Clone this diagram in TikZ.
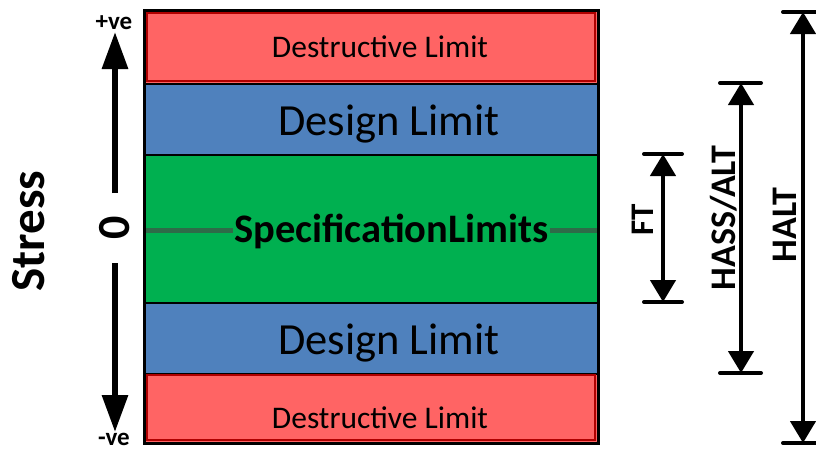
\documentclass[tikz,border=0pt]{standalone}
\usepackage{fontspec}
\setmainfont{Carlito}
\usetikzlibrary{arrows.meta}
\definecolor{destred}{HTML}{FF6464}
\definecolor{destedge}{HTML}{B00000}
\definecolor{designblue}{HTML}{4F81BD}
\definecolor{specgreen}{HTML}{00B050}
\definecolor{zeroline}{HTML}{2E6B48}
\tikzset{
  band/.style={draw=black, line width=1.5pt, minimum width=454pt, inner sep=0pt, anchor=north},
  destband/.style={band, fill=destred, font=\fontsize{31.5}{36}\selectfont},
  designband/.style={band, fill=designblue, font=\fontsize{44.5}{50}\selectfont},
  specband/.style={band, fill=specgreen},
  axislabel/.style={font=\fontsize{25}{28}\selectfont\bfseries, inner sep=0pt},
  vlabel/.style={rotate=90, font=\fontsize{36}{40}\selectfont\bfseries, inner sep=0pt},
  bigarrow/.style={line width=6pt, -{Triangle[length=37pt,width=25pt]}},
  rangearrow/.style={line width=4.5pt, {Triangle[length=22pt,width=25pt]}-{Triangle[length=22pt,width=25pt]}},
  rangebar/.style={line width=4pt, line cap=round},
}
\begin{document}
\begin{tikzpicture}[x=1pt,y=-1pt]
\useasboundingbox (0,0) rectangle (816,450);

% stacked limit bands
\node[destband, minimum height=73pt] (destTop) at (371,10) {};
\fill[destred, draw=destedge, line width=2pt] (147,13) rectangle (595,81);
\node[font=\fontsize{31.5}{36}\selectfont] (destTopText) at (380,47) {Destructive Limit};
\node[designband, minimum height=71pt] (designTop) at (371,83) {};
\node[font=\fontsize{44.5}{50}\selectfont] (designTopText) at (389,124) {Design Limit};
\node[specband, minimum height=148pt] (spec) at (371,154) {};
\node[designband, minimum height=71pt] (designBot) at (371,302) {};
\node[font=\fontsize{44.5}{50}\selectfont] (designBotText) at (389,343) {Design Limit};
\node[destband, minimum height=70pt] (destBot) at (371,373) {};
\fill[destred, draw=destedge, line width=2pt] (147,375) rectangle (595,440);
\node[font=\fontsize{31.5}{36}\selectfont] (destBotText) at (380,418) {Destructive Limit};

% zero line through the specification band
\node[font=\fontsize{40.5}{44}\selectfont\bfseries, inner sep=1pt] (specText) at (391.5,231) {SpecificationLimits};
\coordinate (zeroL) at (144,230);
\coordinate (zeroR) at (597,230);
\draw[zeroline, line width=5pt] (zeroL) -- (specText.west |- zeroL);
\draw[zeroline, line width=5pt] (specText.east |- zeroR) -- (zeroR);

% outer frame
\draw[line width=3pt] (144,10) rectangle (598,443);

% stress axis
\node[rotate=90, font=\fontsize{49}{52}\selectfont\bfseries, inner sep=0pt] (stress) at (29,231) {Stress};
\node[rotate=90, font=\fontsize{46}{50}\selectfont\bfseries, inner sep=0pt] (zero) at (115,228) {0};
\node[axislabel] (pos) at (114,23) {+ve};
\node[axislabel] (neg) at (114,439) {-ve};
\coordinate (upStart) at (115,193);
\coordinate (upEnd) at (115,32);
\coordinate (downStart) at (115,263);
\coordinate (downEnd) at (115,432);
\begin{scope}[gray!25, shift={(3,2)}]
  \draw[bigarrow] (upStart) -- (upEnd);
  \draw[bigarrow] (downStart) -- (downEnd);
\end{scope}
\draw[bigarrow] (upStart) -- (upEnd);
\draw[bigarrow] (downStart) -- (downEnd);

% test ranges
\coordinate (ftTop) at (663,154);
\coordinate (ftBot) at (663,302);
\draw[rangebar] (644,154) -- (682,154);
\draw[rangebar] (644,302) -- (682,302);
\draw[rangearrow] (ftTop) -- (ftBot);
\node[vlabel, font=\fontsize{33}{36}\selectfont\bfseries] (ft) at (643,220) {FT};

\coordinate (hassTop) at (741,83);
\coordinate (hassBot) at (741,373);
\draw[rangebar] (720,83) -- (761,83);
\draw[rangebar] (720,373) -- (761,373);
\draw[rangearrow] (hassTop) -- (hassBot);
\node[vlabel] (hass) at (724,218) {HASS/ALT};

\coordinate (haltTop) at (803,12);
\coordinate (haltBot) at (803,443);
\draw[rangebar] (783,12) -- (830,12);
\draw[rangebar] (783,443) -- (830,443);
\draw[rangearrow] (haltTop) -- (haltBot);
\node[vlabel] (halt) at (785,225) {HALT};
\end{tikzpicture}
\end{document}
